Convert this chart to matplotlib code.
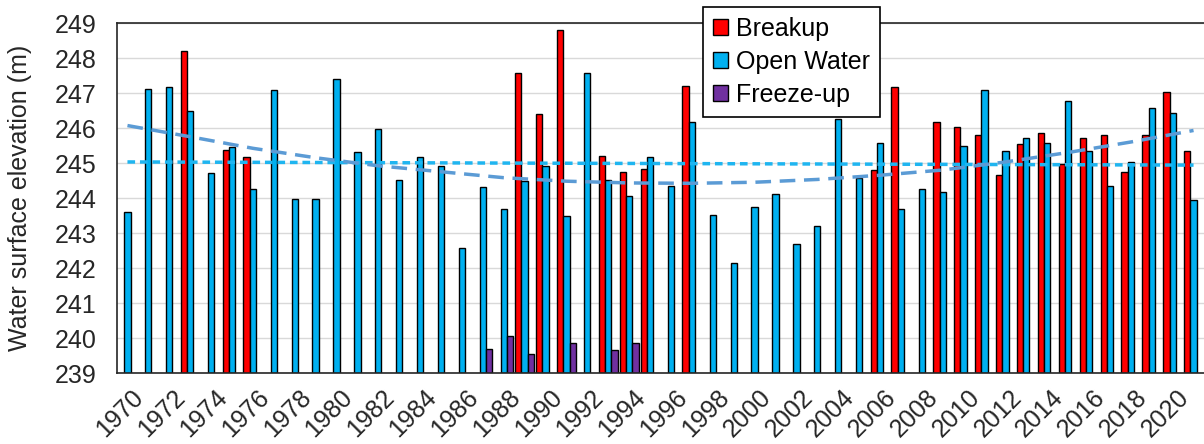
import numpy as np
import matplotlib
matplotlib.use('Agg')
import matplotlib.pyplot as plt
import matplotlib.transforms as mtransforms

plt.rcParams['font.family'] = ['Liberation Sans', 'DejaVu Sans']

years = list(range(1970, 2022))

# water surface elevation (m), only years with an event
breakup = {1973: 248.21, 1975: 245.38, 1976: 245.16, 1989: 247.58, 1990: 246.40,
           1991: 248.81, 1993: 245.21, 1994: 244.75, 1995: 244.84, 1997: 247.21,
           2006: 244.80, 2007: 247.17, 2009: 246.16, 2010: 246.03, 2011: 245.80,
           2012: 244.67, 2013: 245.53, 2014: 245.85, 2015: 244.97, 2016: 245.71,
           2017: 245.80, 2018: 244.75, 2019: 245.80, 2020: 247.02, 2021: 245.35}

open_water = {1970: 243.61, 1971: 247.12, 1972: 247.17, 1973: 246.48, 1974: 244.71,
              1975: 245.47, 1976: 244.25, 1977: 247.08, 1978: 243.97, 1979: 243.97,
              1980: 247.40, 1981: 245.30, 1982: 245.98, 1983: 244.52, 1984: 245.16,
              1985: 244.90, 1986: 242.56, 1987: 244.30, 1988: 243.70, 1989: 244.48,
              1990: 244.90, 1991: 243.48, 1992: 247.58, 1993: 244.52, 1994: 244.07,
              1995: 245.16, 1996: 244.34, 1997: 246.17, 1998: 243.51, 1999: 242.15,
              2000: 243.74, 2001: 244.11, 2002: 242.70, 2003: 243.21, 2004: 246.25,
              2005: 244.56, 2006: 245.56, 2007: 243.70, 2008: 244.25, 2009: 244.16,
              2010: 245.49, 2011: 247.08, 2012: 245.35, 2013: 245.71, 2014: 245.56,
              2015: 246.76, 2016: 245.35, 2017: 244.34, 2018: 245.02, 2019: 246.57,
              2020: 246.42, 2021: 243.93}

freeze_up = {1987: 239.69, 1988: 240.06, 1989: 239.55, 1991: 239.87, 1993: 239.65,
             1994: 239.87}

# trendlines
linear_years = [1970, 2021]
linear_vals = [245.03, 244.94]

poly_years = [1970, 1973, 1976, 1979, 1982, 1985, 1988, 1991, 1994, 1997, 2000,
              2003, 2006, 2009, 2012, 2015, 2018, 2021]
poly_vals = [246.07, 245.75, 245.42, 245.15, 244.92, 244.75, 244.58, 244.48, 244.43,
             244.42, 244.45, 244.53, 244.65, 244.80, 245.03, 245.30, 245.60, 245.93]

BASE = 239
c_break = '#FF0000'
c_open = '#00B0F0'
c_freeze = '#7030A0'

fig = plt.figure(figsize=(12.04, 4.44), dpi=100)
ax = fig.add_axes([117/1204, 1 - 373/444, 1 - 117/1204, 350/444])

idx = {y: i for i, y in enumerate(years)}
w = 0.3

def draw(series, off, color, label):
    xs = [idx[y] + off for y in series]
    hs = [v - BASE for v in series.values()]
    ax.bar(xs, hs, width=w, bottom=BASE, color=color, edgecolor='black',
           linewidth=1, label=label, zorder=2)

draw(breakup, -w, c_break, 'Breakup')
draw(open_water, 0, c_open, 'Open Water')
draw(freeze_up, w, c_freeze, 'Freeze-up')

ax.plot([idx[y] for y in linear_years], linear_vals, color='#1FB5F0', lw=2.5,
        dashes=(2.2, 1.4), zorder=3)
ax.plot([idx[y] for y in poly_years], poly_vals, color='#5B9BD5', lw=2.5,
        dashes=(4.5, 2.5), zorder=3)

ax.set_xlim(-0.5, len(years) - 0.5)
ax.set_ylim(239, 249)
ax.set_yticks(range(239, 250))
ax.set_xticks([idx[y] for y in years if y % 2 == 0])
ax.set_xticklabels([str(y) for y in years if y % 2 == 0], rotation=45,
                   ha='right', rotation_mode='anchor')
ax.tick_params(axis='both', length=0, labelsize=18, colors='#262626')
ax.tick_params(axis='x', pad=9)
ax.tick_params(axis='y', pad=15)
shift = mtransforms.ScaledTranslation(0.04, 0, fig.dpi_scale_trans)
for lab in ax.get_xticklabels():
    lab.set_transform(lab.get_transform() + shift)
ax.yaxis.grid(True, color='#D9D9D9', lw=1, zorder=0)
ax.set_axisbelow(True)
for s in ['left', 'bottom', 'top']:
    ax.spines[s].set_color('#262626')
    ax.spines[s].set_linewidth(1.2)
ax.spines['right'].set_visible(False)

ax.set_ylabel('Water surface elevation (m)', fontsize=18, color='#262626', labelpad=16)

leg = ax.legend(loc='upper left', bbox_to_anchor=(703/1204, 1 - 7/444),
                bbox_transform=fig.transFigure, fontsize=18, frameon=True,
                fancybox=False, edgecolor='black', framealpha=1,
                handlelength=0.6, handleheight=0.6, handletextpad=0.3,
                borderpad=0.4, labelspacing=0.36, borderaxespad=0)
leg.get_frame().set_linewidth(1.2)

fig.savefig('out.png', dpi=100)
